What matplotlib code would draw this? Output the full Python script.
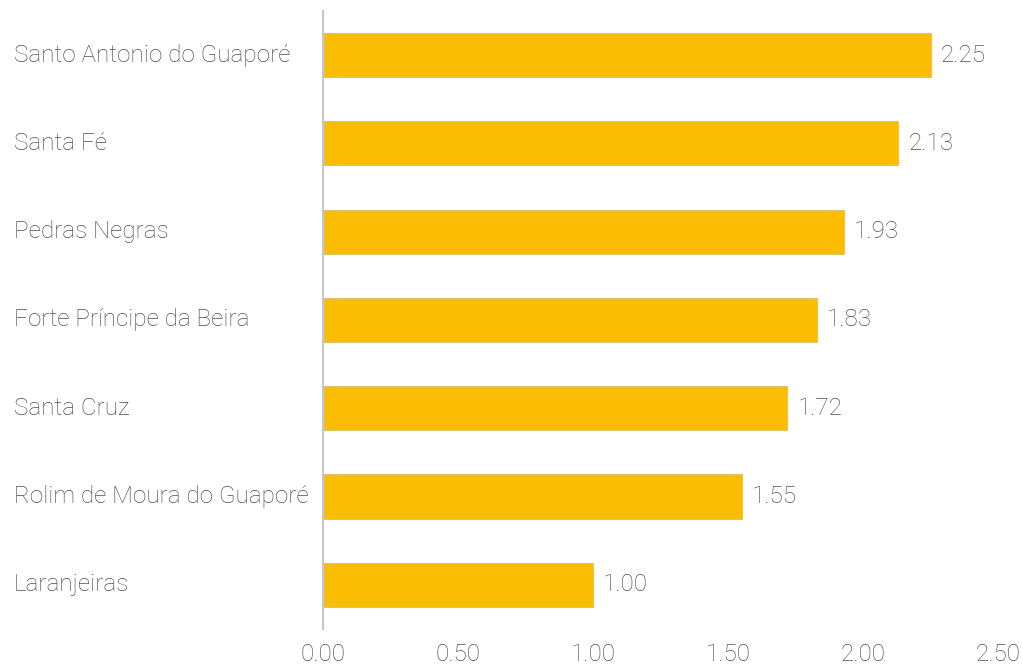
import matplotlib.pyplot as plt
from matplotlib.transforms import blended_transform_factory

# dados do grafico
cidades = ['Santo Antonio do Guaporé', 'Santa Fé', 'Pedras Negras',
           'Forte Príncipe da Beira', 'Santa Cruz',
           'Rolim de Moura do Guaporé', 'Laranjeiras']
valores = [2.25, 2.13, 1.93, 1.83, 1.72, 1.55, 1.00]
ticks_x = [0.0, 0.5, 1.0, 1.5, 2.0, 2.5]

plt.rcParams['font.family'] = ['Roboto', 'DejaVu Sans']
cor_texto = '#505050'
tam = 17.5

fig = plt.figure(figsize=(10.23, 6.67), dpi=100)
ax = fig.add_axes([0.3157, 0.057, 0.66, 0.9265])

pos = list(range(len(cidades)))
ax.barh(pos, valores, height=0.5, color='#FBBC04', edgecolor='#d9c27a',
        linewidth=0.8, zorder=2)
ax.set_ylim(len(cidades) - 0.5, -0.5)
ax.set_xlim(0, 2.5)

# rotulos de valor ao lado das barras
for p, v in zip(pos, valores):
    ax.text(v + 0.037, p, f'{v:.2f}', va='center', ha='left',
            fontsize=tam, fontweight='light', color=cor_texto)

# nomes das cidades alinhados a esquerda da figura
trans = blended_transform_factory(fig.transFigure, ax.transData)
for p, nome in zip(pos, cidades):
    ax.text(14 / 1023, p, nome, transform=trans, va='center', ha='left',
            fontsize=tam, fontweight='light', color=cor_texto)
ax.set_yticks([])

ax.set_xticks(ticks_x)
ax.set_xticklabels([f'{t:.2f}' for t in ticks_x], fontsize=tam,
                   fontweight='light', color=cor_texto)
ax.tick_params(axis='x', length=0, pad=10)

for s in ['top', 'right', 'bottom']:
    ax.spines[s].set_visible(False)
ax.spines['left'].set_color('#c8c8c8')
ax.spines['left'].set_linewidth(1.5)
ax.spines['left'].set_zorder(3)

fig.savefig('out.png', dpi=100)
